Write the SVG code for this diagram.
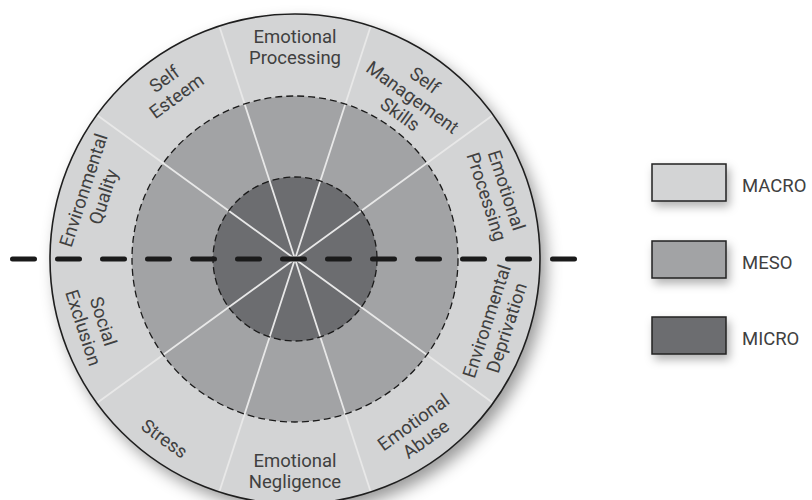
<svg xmlns="http://www.w3.org/2000/svg" width="812" height="500" viewBox="0 0 812 500">
  <defs>
    <filter id="shadow" x="-20%" y="-20%" width="140%" height="140%">
      <feDropShadow dx="6" dy="8" stdDeviation="8" flood-color="#000" flood-opacity="0.4"/>
    </filter>
    <filter id="shadowSmall" x="-30%" y="-60%" width="160%" height="220%">
      <feDropShadow dx="3" dy="5" stdDeviation="5" flood-color="#000" flood-opacity="0.3"/>
    </filter>
    <style>
      .lbl { font-family: Roboto, "Liberation Sans", sans-serif; font-size: 18.5px; font-weight: 400; fill: #404040; text-anchor: middle; }
      .leg { font-family: Roboto, "Liberation Sans", sans-serif; font-size: 18.5px; font-weight: 400; fill: #404040; }
      .box { stroke: #222; stroke-width: 1.5; }
      .macro { fill: #d3d4d5; }
      .meso { fill: #a2a3a5; }
      .micro { fill: #6c6d70; }
      .ring { fill: none; stroke: #1a1a1a; stroke-width: 1.3; stroke-dasharray: 7 4; }
    </style>
  </defs>
  <rect width="812" height="500" fill="#ffffff"/>

  <g id="wheel">
    <circle cx="295" cy="259" r="245" class="macro" filter="url(#shadow)"/>
    <circle cx="295" cy="259" r="163" class="meso"/>
    <circle cx="295" cy="259" r="82" class="micro"/>
  </g>

  <g id="connectors">
    <path d="M295 259 L492.4 115.58 M295 259 L370.4 26.94 M295 259 L219.6 26.94 M295 259 L97.6 115.58 M295 259 L97.6 402.42 M295 259 L219.6 491.06 M295 259 L370.4 491.06 M295 259 L492.4 402.42" stroke="#e8e8e8" stroke-width="1.8" fill="none"/>
  </g>

  <g id="rings">
    <circle cx="295" cy="259" r="163" class="ring"/>
    <circle cx="295" cy="259" r="82" class="ring"/>
    <circle cx="295" cy="259" r="245" fill="none" stroke="#1e1e1e" stroke-width="1.6"/>
  </g>

  <g id="divider">
    <line x1="12.5" y1="263" x2="577.5" y2="263" stroke="#000" stroke-opacity="0.25" stroke-width="6" stroke-dasharray="22 23" stroke-linecap="round" filter="url(#shadowSmall)"/>
    <line x1="12.5" y1="259" x2="577.5" y2="259" stroke="#1a1a1a" stroke-width="5" stroke-dasharray="22 23" stroke-linecap="round"/>
  </g>

  <g id="label-emotional-processing-top">
    <text class="lbl" transform="translate(295 47)"><tspan x="0" y="-4">Emotional</tspan><tspan x="0" y="17">Processing</tspan></text>
  </g>
  <g id="label-self-esteem">
    <text class="lbl" transform="translate(170.39 87.49) rotate(-36)"><tspan x="0" y="-4">Self</tspan><tspan x="0" y="17">Esteem</tspan></text>
  </g>
  <g id="label-environmental-quality">
    <text class="lbl" transform="translate(93.38 193.49) rotate(-72)"><tspan x="0" y="-4">Environmental</tspan><tspan x="0" y="17">Quality</tspan></text>
  </g>
  <g id="label-self-management-skills">
    <text class="lbl" transform="translate(412.56 97.2) rotate(36)"><tspan x="0" y="-14.5">Self</tspan><tspan x="0" y="6.5">Management</tspan><tspan x="0" y="27.5">Skills</tspan></text>
  </g>
  <g id="label-emotional-processing-right">
    <text class="lbl" transform="translate(496.62 193.49) rotate(72)"><tspan x="0" y="-4">Emotional</tspan><tspan x="0" y="17">Processing</tspan></text>
  </g>
  <g id="label-social-exclusion">
    <text class="lbl" transform="translate(93.38 324.51) rotate(72)"><tspan x="0" y="-4">Social</tspan><tspan x="0" y="17">Exclusion</tspan></text>
  </g>
  <g id="label-stress">
    <text class="lbl" transform="translate(164.51 438.6) rotate(36)"><tspan x="0" y="6.5">Stress</tspan></text>
  </g>
  <g id="label-emotional-negligence">
    <text class="lbl" transform="translate(295 471)"><tspan x="0" y="-4">Emotional</tspan><tspan x="0" y="17">Negligence</tspan></text>
  </g>
  <g id="label-emotional-abuse">
    <text class="lbl" transform="translate(419.61 430.51) rotate(-36)"><tspan x="0" y="-4">Emotional</tspan><tspan x="0" y="17">Abuse</tspan></text>
  </g>
  <g id="label-environmental-deprivation">
    <text class="lbl" transform="translate(496.62 324.51) rotate(-72)"><tspan x="0" y="-4">Environmental</tspan><tspan x="0" y="17">Deprivation</tspan></text>
  </g>

  <g id="legend-macro">
    <rect x="652" y="164" width="74" height="37" class="box macro" filter="url(#shadowSmall)"/>
    <text class="leg" x="742" y="192">MACRO</text>
  </g>
  <g id="legend-meso">
    <rect x="652" y="241" width="74" height="37" class="box meso" filter="url(#shadowSmall)"/>
    <text class="leg" x="742" y="269">MESO</text>
  </g>
  <g id="legend-micro">
    <rect x="652" y="317" width="74" height="37" class="box micro" filter="url(#shadowSmall)"/>
    <text class="leg" x="742" y="345">MICRO</text>
  </g>
</svg>
